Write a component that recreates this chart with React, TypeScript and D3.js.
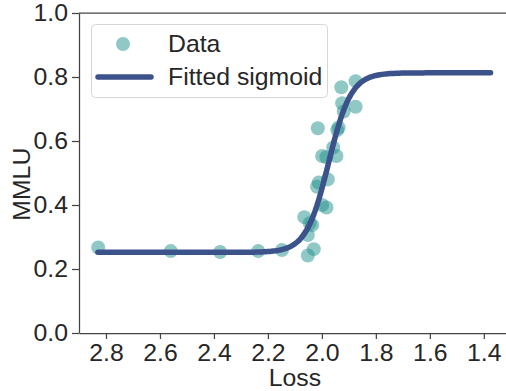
import React, { useEffect, useRef } from "react";
import * as d3 from "d3";

const lossValues = [
  2.829, 2.56, 2.377, 2.236, 2.148, 2.052, 2.03, 2.052, 2.065, 2.045, 2.036,
  1.999, 1.983, 2.012, 2.018, 1.978, 1.999, 1.983, 1.946, 1.958, 2.015, 1.943,
  1.938, 1.919, 1.925, 1.875, 1.928, 1.875,
];
const mmluValues = [
  0.267, 0.256, 0.253, 0.256, 0.259, 0.242, 0.262, 0.306, 0.362, 0.343, 0.337,
  0.4, 0.392, 0.47, 0.457, 0.48, 0.553, 0.549, 0.553, 0.58, 0.64, 0.634, 0.642,
  0.692, 0.718, 0.707, 0.768, 0.787,
];

// fitted sigmoid parameters: floor, height, midpoint, steepness
const sigmoidParams = [0.252, 0.561, 1.975, 24];
const sigmoidRange = [2.83, 1.375];

const xTicks = [2.8, 2.6, 2.4, 2.2, 2.0, 1.8, 1.6, 1.4];
const yTicks = [0, 0.2, 0.4, 0.6, 0.8, 1.0];
const legendLabels = ["Data", "Fitted sigmoid"];

const App: React.FC = () => {
  const ref = useRef<SVGSVGElement>(null);

  useEffect(() => {
    const width = 506;
    const height = 391;
    const margin = { top: 13, left: 79, bottom: 58 };
    const font = "'Liberation Sans', Arial, sans-serif";
    const fontSize = "24.8px";
    const ink = "#262626";
    const dotColor = "#21918c";
    const lineColor = "#3b528b";

    const svg = d3.select(ref.current);
    svg.selectAll("*").remove();

    const x = d3.scaleLinear().domain([2.9, 1.3]).range([margin.left, 510.8]);
    const y = d3
      .scaleLinear()
      .domain([0, 1])
      .range([height - margin.bottom, margin.top]);

    // axes
    const xAxis = svg
      .append("g")
      .attr("transform", `translate(0,${height - margin.bottom})`)
      .call(
        d3
          .axisBottom(x)
          .tickValues(xTicks)
          .tickFormat(d3.format(".1f"))
          .tickSize(6)
          .tickPadding(4)
          .tickSizeOuter(0)
      );
    const yAxis = svg
      .append("g")
      .attr("transform", `translate(${margin.left},0)`)
      .call(
        d3
          .axisLeft(y)
          .tickValues(yTicks)
          .tickFormat(d3.format(".1f"))
          .tickSize(7)
          .tickPadding(4)
          .tickSizeOuter(0)
      );
    [xAxis, yAxis].forEach((g) => {
      g.select(".domain").attr("stroke", "#444").attr("stroke-width", 1.25);
      g.selectAll(".tick line").attr("stroke", "#444").attr("stroke-width", 1.25);
      g.selectAll(".tick text")
        .attr("fill", ink)
        .style("font-family", font)
        .style("font-size", fontSize);
    });

    // top spine
    svg
      .append("line")
      .attr("x1", margin.left)
      .attr("x2", width)
      .attr("y1", y(1))
      .attr("y2", y(1))
      .attr("stroke", "#444")
      .attr("stroke-width", 1.25);

    // axis labels
    svg
      .append("text")
      .attr("x", x(2.1))
      .attr("y", 386)
      .attr("text-anchor", "middle")
      .attr("fill", ink)
      .style("font-family", font)
      .style("font-size", fontSize)
      .text("Loss");
    svg
      .append("text")
      .attr("transform", `translate(30,${y(0.465)}) rotate(-90)`)
      .attr("text-anchor", "middle")
      .attr("fill", ink)
      .style("font-family", font)
      .style("font-size", fontSize)
      .text("MMLU");

    // scatter
    svg
      .append("g")
      .selectAll("circle")
      .data(lossValues)
      .join("circle")
      .attr("cx", (d) => x(d))
      .attr("cy", (_, i) => y(mmluValues[i]))
      .attr("r", 7)
      .attr("fill", dotColor)
      .attr("fill-opacity", 0.5);

    // fitted sigmoid
    const [floor, amp, mid, k] = sigmoidParams;
    const sig = (l: number) => floor + amp / (1 + Math.exp(-k * (mid - l)));
    const curveX = d3.range(200).map(
      (i) => sigmoidRange[0] + ((sigmoidRange[1] - sigmoidRange[0]) * i) / 199
    );
    svg
      .append("path")
      .datum(curveX)
      .attr("fill", "none")
      .attr("stroke", lineColor)
      .attr("stroke-width", 5.5)
      .attr("stroke-linecap", "round")
      .attr(
        "d",
        d3
          .line<number>()
          .x((d) => x(d))
          .y((d) => y(sig(d)))
      );

    // legend
    const lg = svg.append("g");
    lg.append("rect")
      .attr("x", 91.5)
      .attr("y", 24.5)
      .attr("width", 236)
      .attr("height", 73)
      .attr("rx", 4)
      .attr("fill", "white")
      .attr("fill-opacity", 0.8)
      .attr("stroke", "#d6d6d6");
    lg.append("circle")
      .attr("cx", 123)
      .attr("cy", 44)
      .attr("r", 7)
      .attr("fill", dotColor)
      .attr("fill-opacity", 0.5);
    lg.append("line")
      .attr("x1", 98)
      .attr("x2", 151)
      .attr("y1", 77)
      .attr("y2", 77)
      .attr("stroke", lineColor)
      .attr("stroke-width", 5.5)
      .attr("stroke-linecap", "round");
    lg.selectAll("text")
      .data(legendLabels)
      .join("text")
      .attr("x", 168)
      .attr("y", (_, i) => 52 + i * 33)
      .attr("fill", ink)
      .style("font-family", font)
      .style("font-size", fontSize)
      .text((d) => d);
  }, []);

  return (
    <svg
      ref={ref}
      width={506}
      height={391}
      style={{ position: "absolute", left: 0, top: 0, background: "white" }}
    />
  );
};

export default App;
